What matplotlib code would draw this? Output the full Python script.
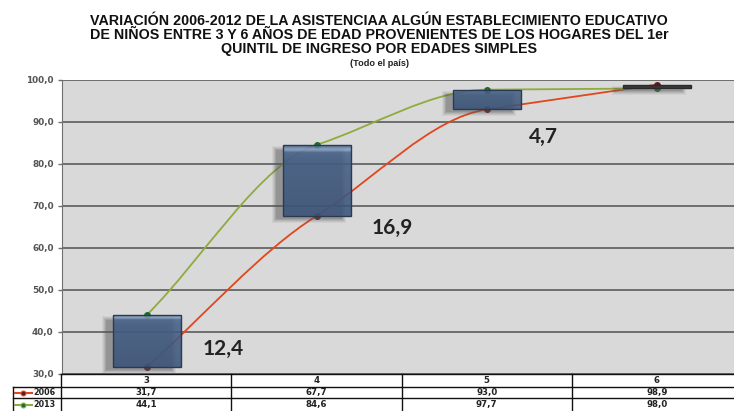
import numpy as np
import matplotlib.pyplot as plt
import matplotlib.transforms as mtransforms
from matplotlib.patches import Rectangle, PathPatch
from matplotlib.path import Path
from matplotlib.colors import LinearSegmentedColormap

# datos: asistencia por edad simple, 1er quintil
edades = ["3", "4", "5", "6"]
anios = ["2006", "2013"]
serie_2006 = [31.7, 67.7, 93.0, 98.9]
serie_2013 = [44.1, 84.6, 97.7, 98.0]

# donde van los rotulos de la variacion (x en categorias, y en %)
pos_variacion = [(0.45, 36.0), (1.44, 64.8), (2.33, 86.4)]

W, H = 734, 411
ROJO = "#e2461c"
VERDE = "#8eab3e"


def coma(v):
    return f"{v:.1f}".replace(".", ",")


def px_rect(l, t, r, b):
    return [l / W, 1 - b / H, (r - l) / W, (b - t) / H]


def curva_suave(xs, ys):
    # bezier cubica; en cada punto la pendiente del tramo vecino mas plano
    xs = np.asarray(xs, float)
    ys = np.asarray(ys, float)
    d = np.diff(ys) / np.diff(xs)
    m = np.empty_like(ys)
    m[0], m[-1] = d[0], d[-1]
    for k in range(1, len(ys) - 1):
        if d[k - 1] * d[k] <= 0:
            m[k] = 0
        else:
            m[k] = d[k - 1] if abs(d[k - 1]) < abs(d[k]) else d[k]
    verts = [(xs[0], ys[0])]
    codes = [Path.MOVETO]
    for k in range(len(xs) - 1):
        h = (xs[k + 1] - xs[k]) / 3
        verts += [(xs[k] + h, ys[k] + m[k] * h),
                  (xs[k + 1] - h, ys[k + 1] - m[k + 1] * h),
                  (xs[k + 1], ys[k + 1])]
        codes += [Path.CURVE4] * 3
    return Path(verts, codes)


fig = plt.figure(figsize=(W / 100, H / 100), dpi=100)
fig.patch.set_facecolor("white")

titulo = ["VARIACIÓN 2006-2012 DE LA ASISTENCIAA ALGÚN ESTABLECIMIENTO EDUCATIVO",
          "DE NIÑOS ENTRE 3 Y 6 AÑOS DE EDAD PROVENIENTES DE LOS HOGARES DEL 1er",
          "QUINTIL DE INGRESO POR EDADES SIMPLES"]
for linea, yc in zip(titulo, [21, 35, 48.5]):
    fig.text(379 / W, 1 - yc / H, linea, ha="center", va="center", fontsize=10.3,
             fontweight="bold", family="Liberation Sans", color="#111111")
fig.text(379 / W, 1 - 64 / H, "(Todo el país)", ha="center", va="center", fontsize=6.6,
         fontweight="bold", family="Liberation Sans", color="#222222")

ax = fig.add_axes(px_rect(62, 80, 742, 374))
x = np.arange(len(edades))
ax.set_facecolor("#d9d9d9")
ax.set_yticks(np.arange(30, 101, 10))
ax.set_yticklabels([coma(v) for v in np.arange(30, 101, 10)], fontsize=6.4,
                   fontweight="bold", color="#555555")
ax.set_xticks([])
ax.yaxis.grid(True, color="#505050", lw=1.1)
ax.set_axisbelow(True)
ax.tick_params(axis="y", length=3, width=1, color="#707070", pad=3)
for lado in ["top", "right", "bottom"]:
    ax.spines[lado].set_visible(False)
ax.spines["left"].set_color("#707070")

# lineas suavizadas y marcadores
for serie, col, cmark in [(serie_2006, ROJO, "#5a1c1c"), (serie_2013, VERDE, "#1f6a2c")]:
    ax.add_patch(PathPatch(curva_suave(x, serie), fill=False, edgecolor=col, lw=1.3, zorder=2))
    ax.plot(x, serie, ls="none", marker="o", ms=4, mfc=cmark, mec=cmark, zorder=2)

# barras de subida/bajada entre 2006 y 2013
ancho = 0.40
sombra = ax.transData + mtransforms.ScaledTranslation(-0.08, -0.04, fig.dpi_scale_trans)
grad = LinearSegmentedColormap.from_list(
    "barra", [(0, "#3b5479"), (0.8, "#435e84"), (0.9, "#4a668d"), (0.94, "#8aa3c4"), (1, "#4a668d")])
for i, (a, b) in enumerate(zip(serie_2006, serie_2013)):
    lo, hi = min(a, b), max(a, b)
    x0 = x[i] - ancho / 2
    for g, al in [(3, 0.08), (2, 0.10), (1, 0.14), (0, 0.18), (-1, 0.2)]:
        gx, gy = g / 170, g / 4.2
        ax.add_patch(Rectangle((x0 - gx, lo - gy), ancho + 2 * gx, hi - lo + 2 * gy,
                               transform=sombra, facecolor="#5a5a5a", edgecolor="none",
                               alpha=al, zorder=2.5))
    if b >= a:
        rect = Rectangle((x0, lo), ancho, hi - lo, facecolor="none", edgecolor="#2a3a52",
                         lw=1, zorder=3.2)
        ax.add_patch(rect)
        img = ax.imshow(np.linspace(0, 1, 100).reshape(-1, 1), cmap=grad, origin="lower",
                        extent=[x0, x0 + ancho, lo, hi], aspect="auto", alpha=0.88, zorder=3)
        img.set_clip_path(rect)
    else:
        ax.add_patch(Rectangle((x0, lo), ancho, hi - lo, facecolor="#3a3a3a",
                               edgecolor="#2a2a2a", lw=1, zorder=3))

ax.set_xlim(-0.5, len(edades) - 0.5)
ax.set_ylim(30, 100)

# rotulos de la variacion
for i, (px, py) in enumerate(pos_variacion):
    ax.text(px, py, coma(serie_2013[i] - serie_2006[i]), ha="center", va="center",
            fontsize=15, fontweight="bold", family="Lato", color="#222222", zorder=5)

# tabla de datos bajo el eje
axt = fig.add_axes(px_rect(13, 374, 742, 411.5))
etiq_w = 48 / 170
axt.set_xlim(-0.5 - etiq_w, len(edades) - 0.5)
axt.set_ylim(3, 0)
axt.axis("off")
kw = dict(color="#111111", lw=1, clip_on=False)
axt.plot([-0.5, len(edades) - 0.5], [0, 0], **kw)
for yy in [1.05, 1.95, 3]:
    axt.plot([-0.5 - etiq_w, len(edades) - 0.5], [yy, yy], **kw)
axt.plot([-0.5 - etiq_w] * 2, [1.05, 3], **kw)
for xx in np.arange(-0.5, len(edades) - 0.4, 1):
    axt.plot([xx, xx], [0, 3], **kw)

tk = dict(ha="center", va="center", fontsize=6.2, fontweight="bold", color="#222222")
for i, e in enumerate(edades):
    axt.text(i, 0.55, e, **tk)
    axt.text(i, 1.5, coma(serie_2006[i]), **tk)
    axt.text(i, 2.45, coma(serie_2013[i]), **tk)

x_lin = -0.5 - etiq_w
for fila, (anio, col, cmark) in enumerate([(anios[0], ROJO, "#5a1c1c"), (anios[1], VERDE, "#1f6a2c")]):
    yy = 1.5 + fila * 0.95
    axt.plot([x_lin + 0.01, x_lin + 0.11], [yy, yy], color=col, lw=1.5, clip_on=False)
    axt.plot([x_lin + 0.06], [yy], marker="o", ms=3.5, mfc=cmark, mec=col, mew=0.8,
             clip_on=False)
    axt.text(x_lin + 0.12, yy, anio, ha="left", va="center", fontsize=5.8,
             fontweight="bold", color="#222222")

fig.savefig("out.png", dpi=100)
